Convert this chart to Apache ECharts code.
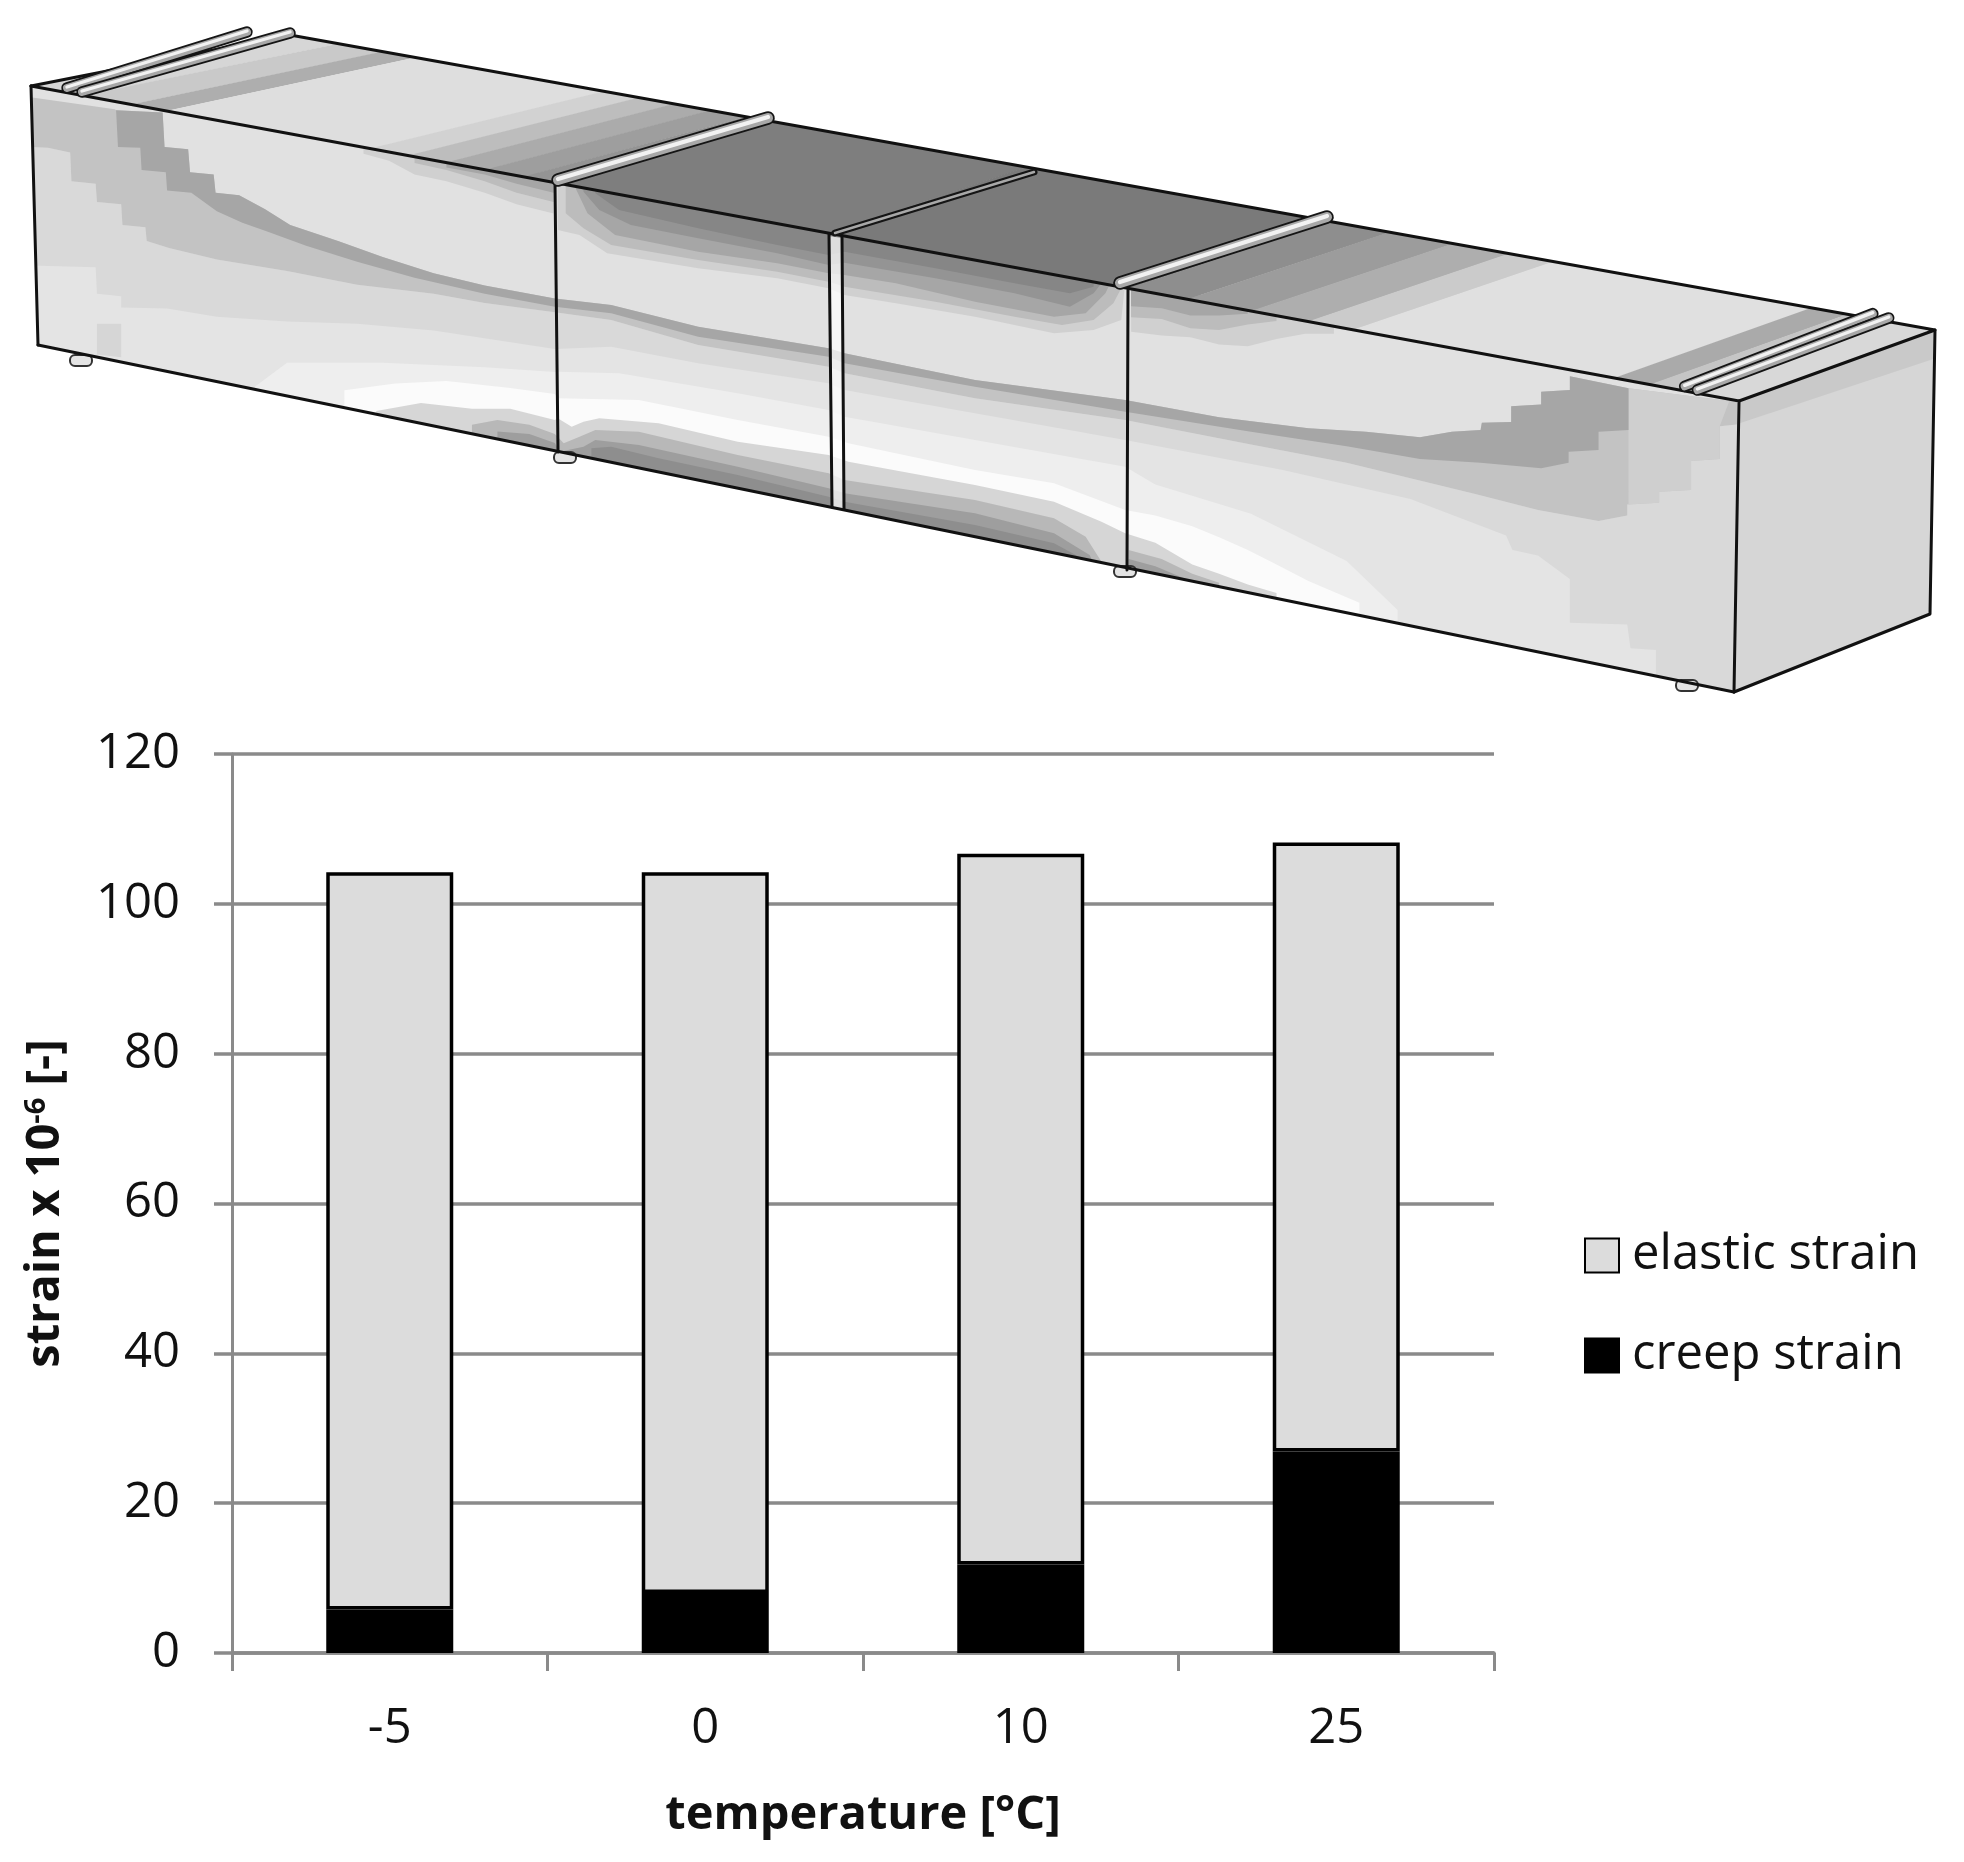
<!DOCTYPE html>
<html><head><meta charset="utf-8">
<style>html,body{margin:0;padding:0;background:#fff}#c{width:1964px;height:1862px;filter:blur(0.6px)}</style>
<script src="https://cdn.jsdelivr.net/npm/echarts@6/dist/echarts.min.js"></script>
</head><body><div id="c"></div>
<script>
const categories = ['-5','0','10','25'];
const creepStrain = [5.8, 8, 11.8, 26.9];
const elasticStrain = [98.4, 96.2, 94.9, 81.3];
const yTicks = {min:0, max:120, interval:20};
const FONT = '"Open Sans"';

const z1=a=>a.map(([x,y])=>[x/1.568,y/2.178]);
const z5=a=>a.map(([x,y])=>[540+x/2.529,150+y/3]);
const z2=a=>a.map(([x,y])=>[964+x/1.568,150+y/2.75]);
const topY=x=>86+(x-31)*0.1844;
const botY=x=>345+(x-38)*0.2046;
const poly=(points,fill)=>({type:'polygon',silent:true,shape:{points},style:{fill,stroke:null}});
const line=(points,w,c)=>({type:'polyline',silent:true,shape:{points},style:{stroke:c||'#111',lineWidth:w||3,fill:null,lineCap:'round',lineJoin:'round'}});
const below=(c,f)=>{const a=c[0],b=c[c.length-1];return poly([...c,[b[0],botY(b[0])+12],[a[0],botY(a[0])+12]],f)};
const above=(c,f)=>{const a=c[0],b=c[c.length-1];return poly([...c,[b[0],topY(b[0])-6],[a[0],topY(a[0])-6]],f)};
const band=(u,l,f)=>poly([...u,...[...l].reverse()],f);

const darkTop=[...z1([[182,240],[255,245],[258,320],[295,325],[298,375],[335,380],[338,420],[375,425],[415,455],[455,490],[530,525],[600,560],[680,595],[760,622],[870,650]]),
 ...z5([[180,465],[400,530],[730,595],[770,610],[1100,690],[1480,750]]),
 ...z2([[400,735],[540,765],[630,775],[715,790],[765,775],[810,770],[812,750],[858,748],[858,705],[905,700],[905,665],[950,660],[950,622],[1042,655]])];
const darkBot=[...z1([[185,320],[220,322],[222,370],[260,375],[262,415],[300,420],[340,460],[380,485],[420,505],[480,535],[560,570],[650,605],[760,640],[870,668]]),
 ...z5([[180,490],[400,560],[730,620],[770,640],[1100,710],[1480,785]]),
 ...z2([[450,775],[600,815],[715,850],[810,860],[905,875],[948,860],[948,830],[995,825],[995,775],[1042,770],[1042,655]])];
const medTop=[...z1([[48,212],[180,238]]),...darkTop,...z2([[1200,690],[1212,692]])];
const medBot=[...z1([[48,320],[75,322],[110,332],[112,395],[150,400],[152,440],[190,445],[192,490],[228,495],[230,525],[265,540],[340,565],[450,590],[560,620],[680,640],[760,660],[870,680]]),
 ...z5([[180,510],[400,585],[730,650],[770,670],[1100,745],[1480,810]]),
 ...z2([[450,810],[600,860],[800,945],[900,990],[995,1020],[1040,1005],[1040,975],[1090,970],[1090,940],[1140,935],[1140,855],[1185,850],[1185,760],[1212,755]])];
const lightBot=[...z1([[48,578],[150,582],[152,640],[190,645],[190,670],[262,672],[340,690],[450,700],[560,705],[680,720],[870,760]]),
 ...z5([[180,590],[400,640],[730,700],[770,720],[1100,790],[1480,870]]),
 ...z2([[500,880],[700,960],[850,1060],[860,1100],[900,1115],[950,1180],[950,1300],[1040,1305],[1045,1370],[1085,1375],[1085,1445]])];
const paleBot=[...z1([[400,842],[450,790],[600,790],[760,800],[870,810]]),
 ...z5([[45,665],[200,670],[500,730],[730,780],[770,800],[1100,870],[1480,950]]),
 ...z2([[300,920],[450,1000],[600,1130],[680,1265]])];
const whiteTop=[...z1([[540,850],[620,835],[700,830],[800,845],[870,858]]),
 ...z5([[45,745],[250,750],[500,810],[730,860],[780,880],[1100,960],[1300,1000],[1480,1080]]),
 ...z2([[300,1005],[358,1035],[400,1065],[445,1100],[490,1140],[540,1185],[620,1245]])];
const whiteBot=[...z1([[590,895],[660,878],[740,890],[800,890],[870,915]]),
 ...z5([[45,805],[80,830],[110,815],[150,805],[300,820],[500,875],[730,915],[780,935],[1100,1005],[1300,1055],[1420,1115],[1480,1150]]),
 ...z2([[300,1080],[358,1140],[400,1165],[445,1195],[490,1218]])];
const stationF=[31,555,829,1128,1739], stationB=[290,775,1026,1331,1935];
const backX=f=>{for(let i=0;i<4;i++){if(f<=stationF[i+1]){const t=(f-stationF[i])/(stationF[i+1]-stationF[i]);return stationB[i]+t*(stationB[i+1]-stationB[i]);}}return 1935;};
const backY=x=>35+(x-290)*0.1793;
const stripes=[[31,83,'#d6d6d6'],[83,131,'#c9c9c9'],[131,166,'#aeaeae'],[166,370,'#dedede'],[370,408,'#d2d2d2'],[408,446,'#bdbdbd'],[446,485,'#ababab'],[485,523,'#9e9e9e'],[523,555,'#949494'],[555,829,'#7e7e7e'],[829,1128,'#7a7a7a'],[1128,1187,'#8e8e8e'],[1187,1251,'#9c9c9c'],[1251,1308,'#aeaeae'],[1308,1353,'#cbcbcb'],[1353,1614,'#e0e0e0'],[1614,1650,'#aaaaaa'],[1650,1678,'#c5c5c5'],[1678,1739,'#d8d8d8']];
const rod=(a,b,w)=>[line([a,b],w+3.5,'#151515'),line([a,b],w,'#a8a8a8'),line([[a[0],a[1]-1],[b[0],b[1]-1]],Math.max(1.5,w*0.42),'#f2f2f2')];
const foot=(x,y)=>({type:'rect',silent:true,shape:{x:x-11,y:y-6,width:22,height:11,r:5},style:{fill:'#e4e4e4',stroke:'#333',lineWidth:2}});

const beam=[
 poly([[31,86],[1739,401],[1734,692],[38,345]],'#e1e1e1'),
 below(medBot,'#d9d9d9'),
 band(medTop,medBot,'#c3c3c3'),
 poly(z2([[1042,655],[1200,690],[1185,760],[1185,850],[1140,855],[1140,935],[1090,940],[1090,970],[1042,975]]),'#cfcfcf'),
 band(darkTop,darkBot,'#a6a6a6'),
 below(lightBot,'#e4e4e4'),
 poly(z1([[152,705],[190,705],[190,778],[152,772]]),'#d6d6d6'),
 below(paleBot,'#eeeeee'),
 below(whiteTop,'#fbfbfb'),
 below(whiteBot,'#d6d6d6'),
 below([...z1([[740,925],[780,915],[830,925],[870,945]]),...z5([[60,880],[100,860],[140,840],[250,845],[500,915],[730,970],[770,990],[1100,1050],[1300,1105],[1380,1160],[1420,1235]])],'#b8b8b8'),
 below(z2([[258,1100],[310,1125],[358,1165],[400,1190]]),'#b8b8b8'),
 below([...z1([[780,940],[830,945],[870,965]]),...z5([[50,905],[110,890],[140,870],[250,885],[500,950],[730,1015],[770,1030],[1100,1090],[1300,1150],[1390,1215],[1400,1240]])],'#9e9e9e'),
 below(z2([[258,1125],[300,1145],[355,1185]]),'#9e9e9e'),
 below(z5([[130,895],[180,890],[300,925],[500,975],[730,1040],[770,1055],[1100,1125],[1300,1180],[1370,1225]]),'#8e8e8e'),
 /* shade under the top edge */
 above(z5([[45,240],[100,255],[170,310],[400,355],[600,385],[730,415],[770,435],[900,460],[1100,500],[1300,550],[1400,540],[1470,510],[1478,420]]),'#d0d0d0'),
 above(z5([[65,190],[110,235],[180,285],[400,330],[600,365],[730,395],[770,410],[1000,455],[1200,500],[1320,525],[1400,510],[1450,460],[1470,415]]),'#bcbcbc'),
 above(z5([[90,115],[120,190],[190,255],[400,305],[600,340],[730,370],[770,375],[900,400],[1100,455],[1300,500],[1380,490],[1430,430],[1440,405]]),'#a6a6a6'),
 above(z5([[110,125],[150,180],[230,225],[400,265],[600,310],[730,345],[770,338],[1000,385],[1200,430],[1340,470],[1400,430],[1420,400]]),'#949494'),
 above(z5([[140,130],[200,180],[400,235],[600,285],[730,315],[770,305],[1000,355],[1200,400],[1340,430],[1400,410]]),'#868686'),
 above(z1([[570,335],[610,350],[650,380],[700,395],[760,420],[810,445],[868,465]]),'#d0d0d0'),
 above(z1([[650,355],[700,370],[760,395],[810,420],[868,440]]),'#bcbcbc'),
 above(z1([[700,365],[760,380],[810,400],[868,420]]),'#a6a6a6'),
 above(z2([[262,500],[310,510],[355,515],[400,535],[445,540],[490,520],[535,505],[580,505]]),'#d0d0d0'),
 above(z2([[262,460],[310,465],[355,490],[400,495],[445,480],[490,470]]),'#bcbcbc'),
 above(z2([[262,430],[310,435],[355,455],[400,455],[445,450]]),'#a6a6a6'),
 /* light strip between the twin lines */
 {type:'polygon',silent:true,shape:{points:[[829,236],[842,238],[844,509],[832,507]]},style:{fill:'rgba(255,255,255,0.72)',stroke:null}},
 /* masks outside the face */
 poly([[38,345],[1745,694],[1745,727],[38,378]],'#fff'),
 poly([[18,86],[31,86],[38,345],[38,380],[18,380]],'#fff'),
 /* top face */
 ...stripes.map(([a,b,c])=>{const e=Math.min(b+1,1739);return poly([[a,topY(a)],[e,topY(e)],[backX(e),backY(backX(e))],[backX(a),backY(backX(a))]],c)}),
 /* end face */
 poly([[1739,401],[1935,330],[1930,614],[1734,692]],'#d6d6d6'),
 poly(z2([[1215,690],[1520,495],[1520,575],[1215,752]]),'#c9c9c9'),
 /* feet */
 foot(81,361),foot(565,458),foot(1125,572),foot(1687,686),
 /* outlines */
 line([[38,345],[1734,692]]),
 line([[31,86],[1739,401],[1734,692]]),
 line([[31,86],[38,345]]),
 line([[31,86],[290,35],[1935,330],[1739,401]]),
 line([[1935,330],[1930,614],[1734,692]]),
 line([[555,184],[558,452]]),
 line([[829,234],[832,507]]),
 line([[842,236],[844,509]]),
 line([[1128,290],[1127,570]]),
 /* rods */
 line([[835,233],[1034,172]],7,'#151515'),line([[835,233],[1034,172]],2.5,'#a8a8a8'),
 ...rod([67,88],[247,32],8),...rod([82,92],[290,33],8),
 ...rod([558,180],[768,118],10),
 ...rod([1120,283],[1327,217],10),
 ...rod(z2([[1130,650]])[0],z2([[1425,450]])[0],8),...rod(z2([[1150,660]])[0],z2([[1450,462]])[0],8)
];

const chart=echarts.init(document.getElementById('c'));
const axisGrey='#8a8a8a';
chart.setOption({
 backgroundColor:'#fff',
 animation:false,
 textStyle:{fontFamily:FONT},
 graphic:{elements:beam},
 grid:{left:232,right:470,top:754,bottom:209,containLabel:false},
 legend:{orient:'vertical',left:1584,top:1231,padding:0,data:['elastic strain','creep strain'],icon:'rect',itemWidth:34,itemHeight:34,itemGap:51,
  textStyle:{fontFamily:FONT,fontSize:49,color:'#111',padding:[0,0,0,8]}},
 xAxis:{type:'category',data:categories,
  name:'temperature [°C]',nameLocation:'middle',nameGap:139,
  nameTextStyle:{fontFamily:FONT,fontWeight:'bold',fontSize:47,color:'#111'},
  axisLine:{show:true,onZero:false,lineStyle:{color:axisGrey,width:3.5}},
  axisTick:{show:true,length:18,lineStyle:{color:axisGrey,width:3}},
  axisLabel:{margin:52,fontFamily:FONT,fontSize:49,color:'#111'}},
 yAxis:{type:'value',min:yTicks.min,max:yTicks.max,interval:yTicks.interval,
  name:'strain x 10{s|-6} [-]',nameLocation:'middle',nameGap:163,
  nameTextStyle:{fontFamily:FONT,fontWeight:'bold',fontSize:47,color:'#111',rich:{s:{fontFamily:FONT,fontWeight:'bold',fontSize:29,color:'#111',verticalAlign:'top',lineHeight:47,padding:[0,0,16,0]}}},
  axisLine:{show:true,lineStyle:{color:axisGrey,width:3}},
  axisTick:{show:true,length:18,lineStyle:{color:axisGrey,width:3.5}},
  splitLine:{show:true,lineStyle:{color:axisGrey,width:3.5}},
  axisLabel:{margin:52,fontFamily:FONT,fontSize:49,color:'#111'}},
 series:[
  {name:'creep strain',type:'bar',stack:'s',barWidth:127,data:creepStrain,itemStyle:{color:'#000',borderColor:'#000',borderWidth:3.5}},
  {name:'elastic strain',type:'bar',stack:'s',barWidth:127,data:elasticStrain,itemStyle:{color:'#dcdcdc',borderColor:'#000',borderWidth:3.5}}
 ]
});
</script></body></html>
